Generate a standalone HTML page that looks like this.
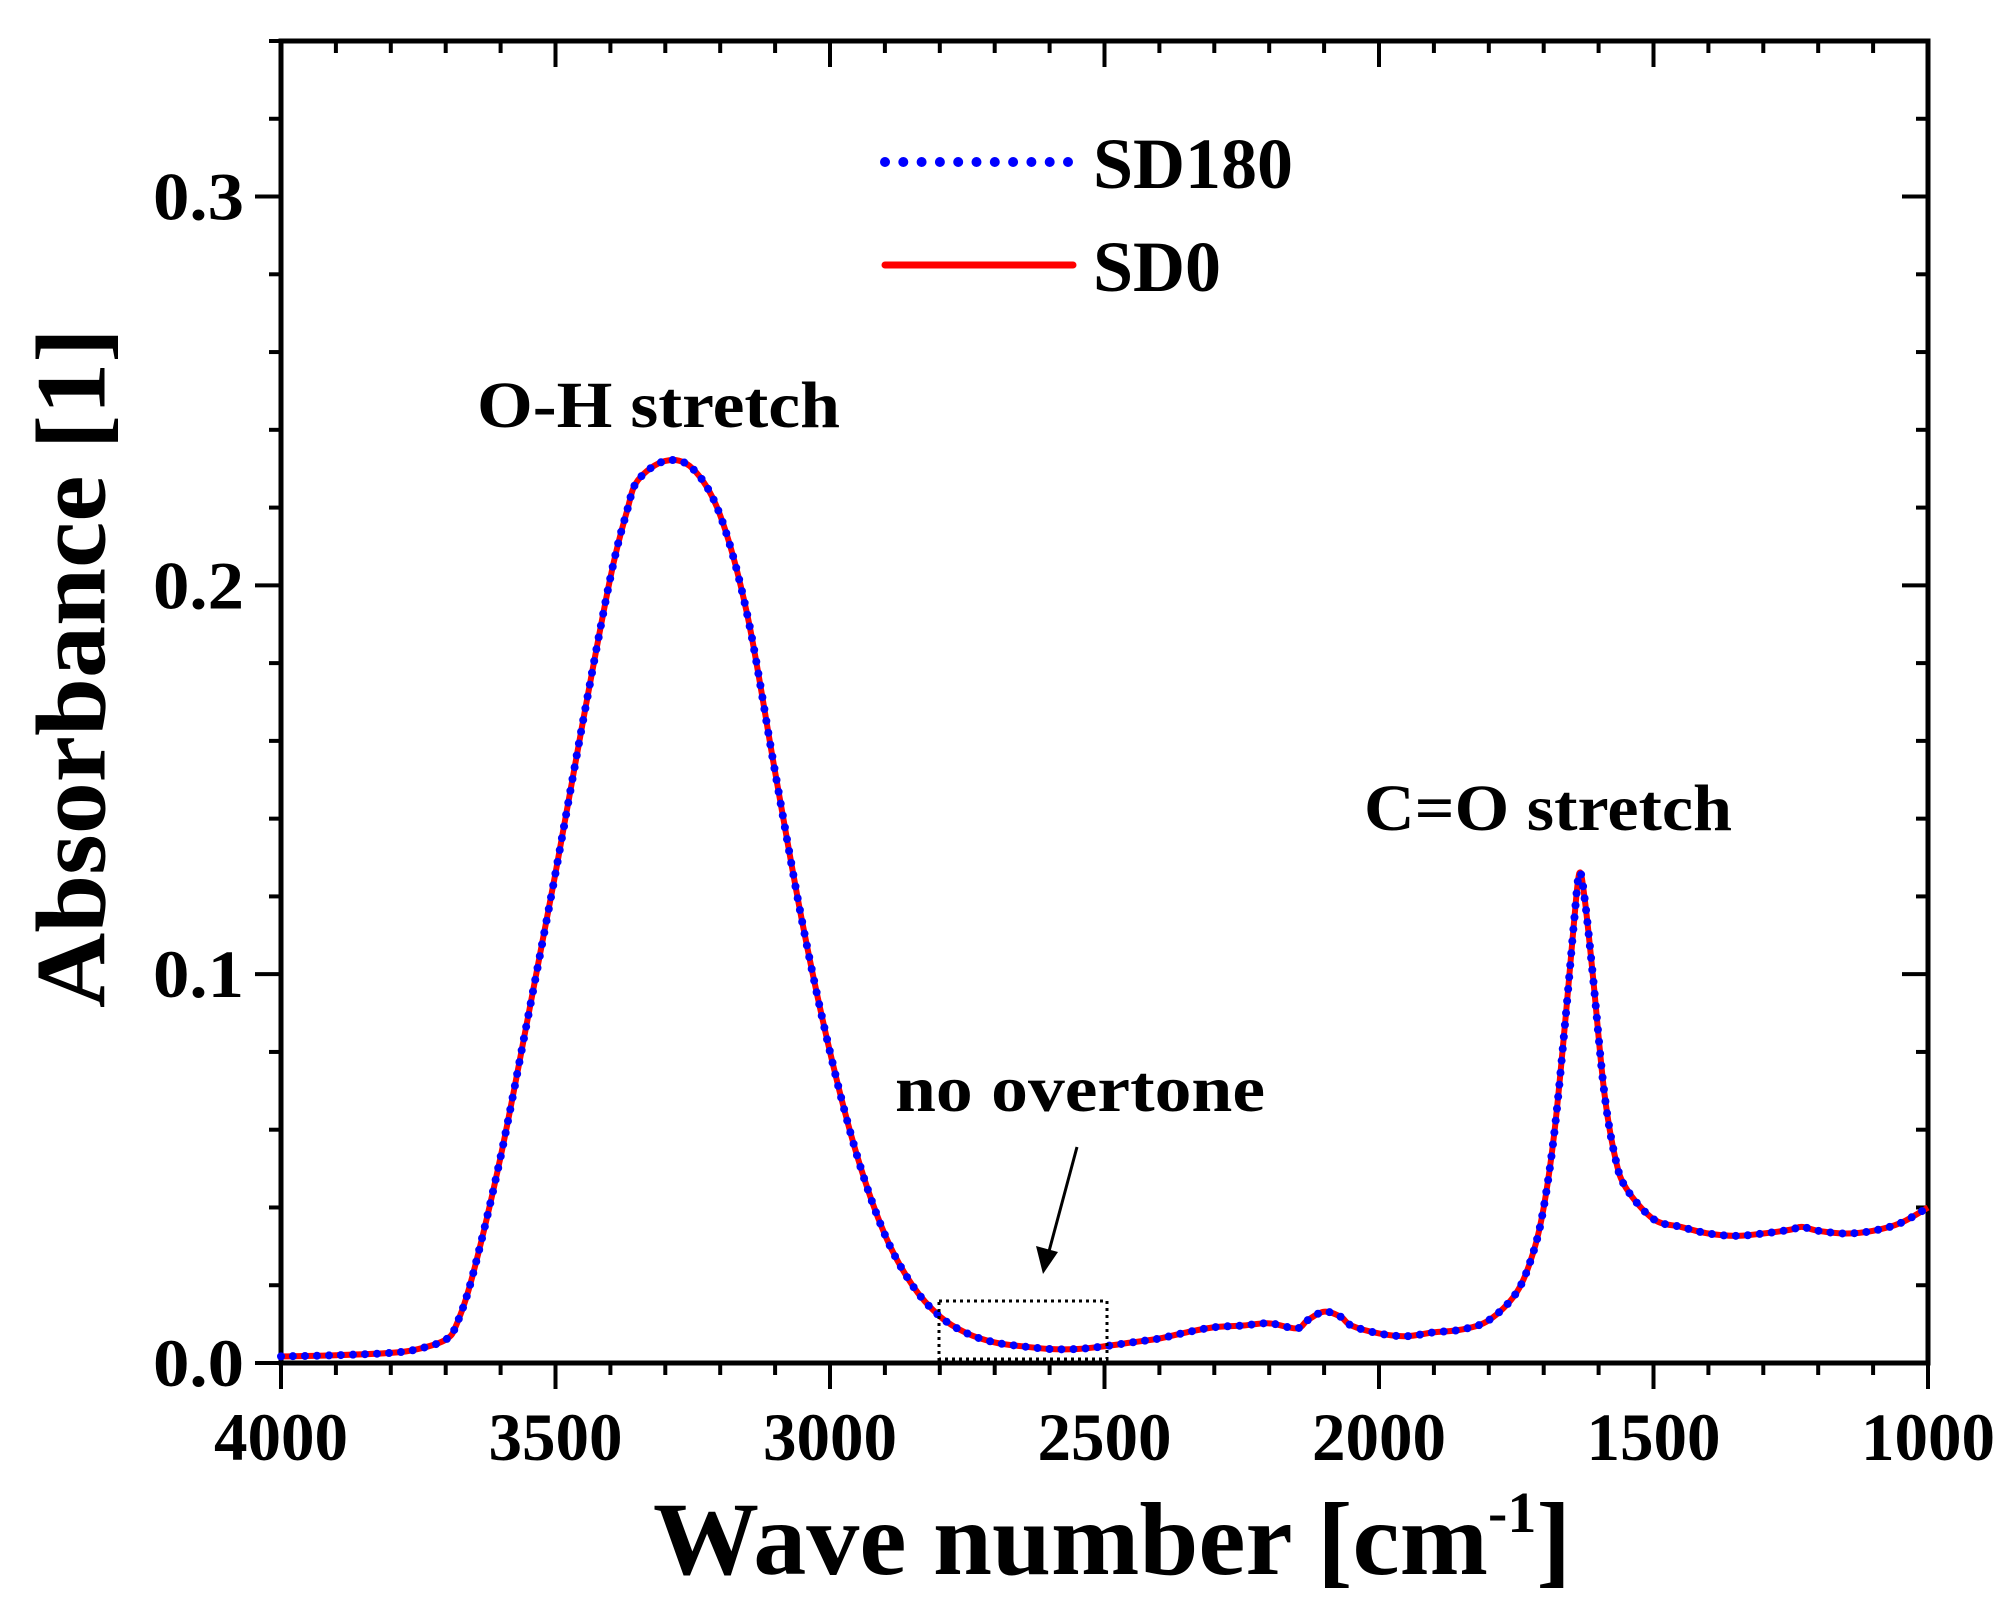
<!DOCTYPE html>
<html><head><meta charset="utf-8"><style>
html,body{margin:0;padding:0;background:#fff;}
svg{display:block;font-family:"Liberation Serif",serif;font-weight:bold;}
</style></head><body>
<svg id="chart" width="2008" height="1606" viewBox="0 0 2008 1606">
<g id="axes"></g>
<g id="series"></g>
<text x="71" y="668" transform="rotate(-90 71 668)" text-anchor="middle" dominant-baseline="central" font-size="100" textLength="680" lengthAdjust="spacingAndGlyphs">Absorbance [1]</text>
<text x="653" y="1574" font-size="104"><tspan textLength="835" lengthAdjust="spacingAndGlyphs">Wave number [cm</tspan><tspan dy="-42" font-size="58">-1</tspan><tspan dy="42">]</tspan></text>
<text x="477" y="427" font-size="66" textLength="363" lengthAdjust="spacingAndGlyphs">O-H stretch</text>
<text x="1364" y="830" font-size="66" textLength="368" lengthAdjust="spacingAndGlyphs">C=O stretch</text>
<text x="895" y="1111" font-size="66" textLength="370" lengthAdjust="spacingAndGlyphs">no overtone</text>
<line x1="1077" y1="1147" x2="1048" y2="1255" stroke="#000" stroke-width="3"/>
<polygon points="1043,1274 1036,1246 1058,1252" fill="#000"/>
<rect x="939" y="1301" width="168" height="58" fill="none" stroke="#000" stroke-width="3" stroke-dasharray="3 4"/>
<g>
<line x1="885" y1="162" x2="1070" y2="162" stroke="#0000ff" stroke-width="10" stroke-linecap="round" stroke-dasharray="0 18.3"/>
<text x="1093" y="188" font-size="72">SD180</text>
<line x1="885" y1="265" x2="1073" y2="265" stroke="#ff0000" stroke-width="7" stroke-linecap="round"/>
<text x="1093" y="291" font-size="72">SD0</text>
</g>
</svg>
<script>
const wavenumbers=[4000,3900,3800,3750,3700,3680,3650,3600,3550,3500,3450,3400,3370,3350,3300,3250,3200,3150,3100,3050,3000,2950,2900,2850,2800,2750,2700,2650,2600,2550,2500,2450,2400,2350,2300,2250,2200,2150,2130,2100,2070,2050,2000,1950,1900,1850,1800,1750,1720,1700,1680,1660,1645,1635,1625,1610,1590,1570,1550,1500,1450,1400,1350,1300,1250,1230,1200,1150,1100,1050,1000];
const sd0=[0.0017,0.002,0.0026,0.0036,0.006,0.010,0.023,0.053,0.089,0.126,0.165,0.202,0.219,0.227,0.232,0.230,0.218,0.192,0.152,0.113,0.080,0.053,0.033,0.020,0.012,0.0076,0.0053,0.0043,0.0036,0.0036,0.0043,0.0053,0.0063,0.0079,0.0092,0.0096,0.0102,0.0089,0.011,0.0132,0.0119,0.0096,0.0076,0.0069,0.0079,0.0086,0.011,0.018,0.028,0.040,0.060,0.089,0.113,0.126,0.119,0.099,0.070,0.053,0.045,0.037,0.035,0.0333,0.0327,0.0333,0.0343,0.035,0.034,0.0333,0.034,0.036,0.040];
const sd180=sd0.slice();
const xMajorTicks=[4000,3500,3000,2500,2000,1500,1000];
const yMajorTicks=[0.0,0.1,0.2,0.3];
const yTickLabels=["0.0","0.1","0.2","0.3"];
const NS="http://www.w3.org/2000/svg";
const L=281,R=1928,T=41,B=1363;
const xs=w=>L+(4000-w)/3000*(R-L);
const ys=a=>B-a/0.34*(B-T);
function mk(tag,attrs,parent){const e=document.createElementNS(NS,tag);for(const k in attrs)e.setAttribute(k,attrs[k]);parent.appendChild(e);return e;}
const ax=document.getElementById('axes');
let f=mk('rect',{x:L,y:T,width:R-L,height:B-T,fill:'none',stroke:'#000','stroke-width':5},ax);


for(let w=4000;w>=1000;w-=100){
  const maj=w%500===0,x=xs(w),len=maj?26:12;
  let t=mk('line',{x1:x,y1:B,x2:x,y2:B+len,stroke:'#000','stroke-width':4},ax);
  
  
  let t2=mk('line',{x1:x,y1:T,x2:x,y2:T+len,stroke:'#000','stroke-width':4},ax);
  
  
}
xMajorTicks.forEach(w=>{
  let tx=mk('text',{x:xs(w),y:1460,'text-anchor':'middle','font-size':68,textLength:134,lengthAdjust:'spacingAndGlyphs'},ax);
  tx.textContent=String(w);
  
  
});
for(let i=0;i<=17;i++){
  const a=i*0.02,y=ys(a),maj=i%5===0,len=maj?26:12;
  let t=mk('line',{x1:L-len,y1:y,x2:L,y2:y,stroke:'#000','stroke-width':4},ax);
  
  
  let t2=mk('line',{x1:R-len,y1:y,x2:R,y2:y,stroke:'#000','stroke-width':4},ax);
  
  
}
yMajorTicks.forEach((a,i)=>{
  let tx=mk('text',{x:244,y:ys(a)+23,'text-anchor':'end','font-size':68,textLength:91,lengthAdjust:'spacingAndGlyphs'},ax);
  tx.textContent=yTickLabels[i];
  
  
});
function pathFor(vals){
  const p=wavenumbers.map((w,i)=>[xs(w),ys(vals[i])]);
  let d='M'+p[0][0]+','+p[0][1];
  for(let i=0;i<p.length-1;i++){
    const p0=p[i-1]||p[i],p1=p[i],p2=p[i+1],p3=p[i+2]||p2;
    const c1=[p1[0]+(p2[0]-p0[0])/6,p1[1]+(p2[1]-p0[1])/6];
    const c2=[p2[0]-(p3[0]-p1[0])/6,p2[1]-(p3[1]-p1[1])/6];
    d+=' C'+c1+' '+c2+' '+p2;
  }
  return d;
}
const sg=document.getElementById('series');
let r=mk('path',{d:pathFor(sd0),fill:'none',stroke:'#ff0000','stroke-width':6,'stroke-linejoin':'round'},sg);


let b=mk('path',{d:pathFor(sd180),fill:'none',stroke:'#0000ff','stroke-width':8,'stroke-linecap':'round','stroke-dasharray':'0 12'},sg);


</script>
</body></html>
